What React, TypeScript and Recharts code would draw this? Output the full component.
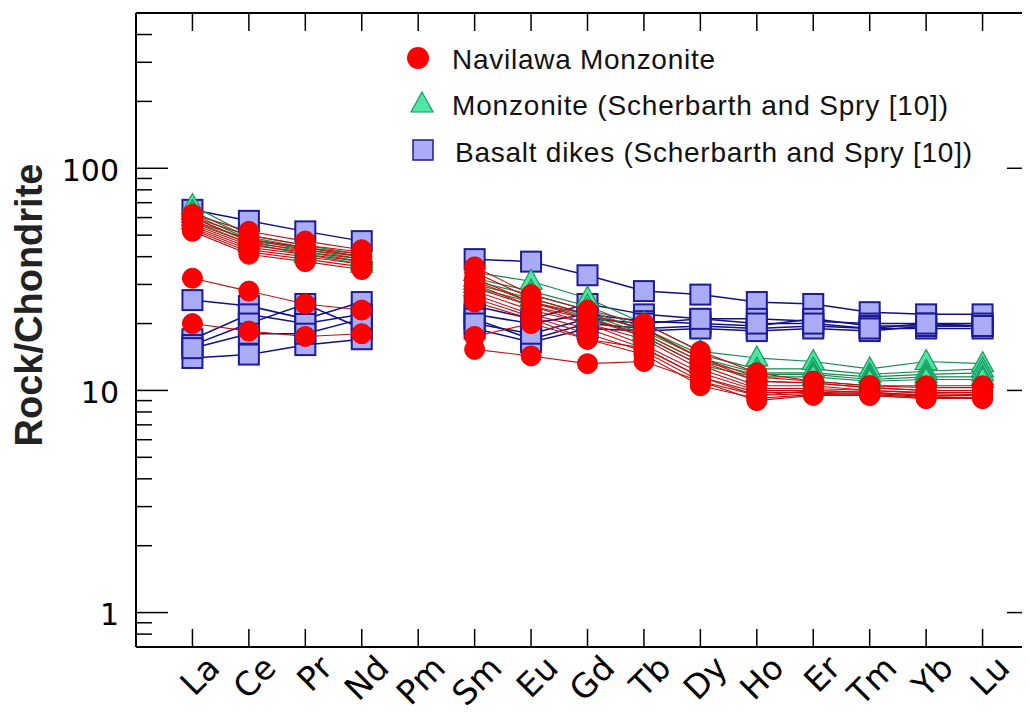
import React from 'react';
import { LineChart, Line, XAxis, YAxis } from 'recharts';

const elements = ['La', 'Ce', 'Pr', 'Nd', 'Pm', 'Sm', 'Eu', 'Gd', 'Tb', 'Dy', 'Ho', 'Er', 'Tm', 'Yb', 'Lu'];
const xTicks = [1, 2, 3, 4, 5, 6, 7, 8, 9, 10, 11, 12, 13, 14, 15];
const yMajor = [1, 10, 100];
const yTicks = [0.8, 0.9, 1, 2, 3, 4, 5, 6, 7, 8, 9, 10, 20, 30, 40, 50, 60, 70, 80, 90, 100, 200, 300, 400];

// Navilawa Monzonite (La..Lu, Pm = null)
const navilawa: (number | null)[][] = [
  [62, 52, 47, 43, null, 36, 27, 23, 20, 15, 12, 11, 10.5, 10.5, 10.5],
  [60, 50, 45, 42, null, 34, 26, 22, 19, 14, 11.5, 11, 10.5, 10.3, 10.3],
  [58, 48, 44, 41, null, 32, 25, 21, 18, 13.5, 11, 10.8, 10.3, 10, 10],
  [57, 46, 43, 40, null, 30, 24, 21, 17.5, 13, 10.5, 10.5, 10, 9.8, 9.8],
  [56, 45, 42, 39, null, 29, 24, 20, 17, 12.5, 10.2, 10.2, 10, 9.7, 9.8],
  [55, 44, 41, 38, null, 28, 23, 20, 16, 12, 10, 10, 9.8, 9.5, 9.6],
  [54, 43, 40, 37, null, 27, 22, 19, 15.5, 11.5, 9.8, 9.8, 9.7, 9.4, 9.5],
  [53, 42, 39, 36, null, 26, 21.5, 18, 15, 11, 9.5, 9.7, 9.6, 9.3, 9.3],
  [52, 41, 38, 35, null, 25, 21, 17, 14.5, 10.5, 9.2, 9.6, 9.5, 9.2, 9.2],
  [60, 47, 44, 40, null, 31, 25, 22, 19, 14, 11, 10.8, 10.3, 10, 10],
  [32, 28, 24.5, 23, null, 17.5, 20, 17, 15.5, 11.5, 9.5, 10, 9.8, 9.5, 9.5],
  [20, 18.5, 17.5, 18, null, 15.3, 14.3, 13.2, 13.5, 11, 9, 9.5, 9.5, 9.2, 9.2],
];

// Monzonite (Scherbarth and Spry [10])
const monzonite: (number | null)[][] = [
  [68, 50, 45, 41, null, 34, 31, 26, 20, 15, 14, 13.5, 12.5, 13.5, 13.2],
  [64, 49, 44, 40, null, 32, 28, 24, 19, 14.5, 12.5, 12.5, 11.8, 12.2, 12.5],
  [62, 48, 43, 39, null, 31, 27, 23, 18.5, 14, 12, 12, 11.5, 11.8, 12],
  [60, 47, 42, 38, null, 30, 26, 22, 18, 13.5, 11.8, 11.8, 11.2, 11.5, 11.5],
  [58, 46, 41, 37, null, 29, 25, 21.5, 17.5, 13, 11.5, 11.5, 11, 11.2, 11.2],
];

// Basalt dikes (Scherbarth and Spry [10])
const basalt: (number | null)[][] = [
  [65, 58, 52, 47, null, 39, 38, 33, 28, 27, 25, 24.5, 22.5, 22, 22],
  [25.5, 24, 21, 25, null, 24, 21, 24.5, 22, 21, 21, 20.5, 20, 20, 20],
  [17, 22, 20, 22, null, 22, 20, 22, 20.5, 20, 19.5, 21, 19.5, 19.5, 19.5],
  [16, 20, 24.5, 19, null, 21, 17, 20, 19, 19.5, 19, 19.5, 19, 19, 19],
  [14, 14.5, 16, 17, null, 19, 16.5, 19, 18.5, 19, 18.5, 19, 18.5, 19.5, 19.5],
  [15.5, 18, 18, 21, null, 20, 18, 21, 20, 21, 20, 20, 19, 20, 19.5],
];

const rows = elements.map((el, i) => {
  const row: any = { x: i + 1, el };
  navilawa.forEach((s, j) => (row['n' + j] = s[i]));
  monzonite.forEach((s, j) => (row['m' + j] = s[i]));
  basalt.forEach((s, j) => (row['b' + j] = s[i]));
  return row;
});

const FONT = 'DejaVu Sans, Verdana, sans-serif';
const SANS = 'Liberation Sans, Arial, sans-serif';

const BottomTick = (p: any) => {
  const { x, y, payload } = p;
  const label = elements[payload.value - 1];
  const px = x + 29;
  const py = y + 23;
  return (
    <g>
      <line x1={x} y1={y} x2={x} y2={y - 18} stroke="#000" strokeWidth={1.5} />
      <text x={px} y={py} textAnchor="end" transform={`rotate(-45 ${px} ${py})`} fontSize={33} fontFamily={FONT} fill="#000">
        {label}
      </text>
    </g>
  );
};

const TopTick = (p: any) => {
  const { x, y } = p;
  return <line x1={x} y1={y} x2={x} y2={y + 18} stroke="#000" strokeWidth={1.5} />;
};

const LeftTick = (p: any) => {
  const { x, y, payload } = p;
  const major = yMajor.includes(payload.value);
  return (
    <g>
      <line x1={x} y1={y} x2={x + (major ? 32 : 16)} y2={y} stroke="#000" strokeWidth={1.5} />
      {major && (
        <text x={x - 17} y={y + 2} textAnchor="end" dominantBaseline="central" fontSize={30} fontFamily={FONT} fill="#000">
          {payload.value}
        </text>
      )}
    </g>
  );
};

const RightTick = (p: any) => {
  const { x, y, payload } = p;
  const major = yMajor.includes(payload.value);
  return <line x1={x} y1={y} x2={x - (major ? 32 : 16)} y2={y} stroke="#000" strokeWidth={1.5} />;
};

const circleDot = (props: any) => {
  const { cx, cy, key } = props;
  if (cx == null || cy == null || isNaN(cy)) return <g key={key} />;
  return <circle key={key} cx={cx} cy={cy} r={10} fill="#ff0000" stroke="#ee0000" strokeWidth={1} />;
};

const triDot = (props: any) => {
  const { cx, cy, key } = props;
  if (cx == null || cy == null || isNaN(cy)) return <g key={key} />;
  const pts = `${cx},${cy - 12} ${cx + 11},${cy + 8} ${cx - 11},${cy + 8}`;
  return <polygon key={key} points={pts} fill="#4fe6a4" stroke="#139a5e" strokeWidth={1.2} />;
};

const squareDot = (props: any) => {
  const { cx, cy, key } = props;
  if (cx == null || cy == null || isNaN(cy)) return <g key={key} />;
  return <rect key={key} x={cx - 10} y={cy - 10} width={20} height={20} fill="#a9abf4" stroke="#1c1c96" strokeWidth={2} />;
};

export default function App() {
  const axisLine = { stroke: '#000', strokeWidth: 2 };
  return (
    <div style={{ position: 'relative', width: 1022, height: 705, overflow: 'hidden', background: '#fff' }}>
      <LineChart width={1040} height={705} data={rows} margin={{ top: 4, right: 8, bottom: 0, left: 0 }}>
        <XAxis xAxisId="b" type="number" dataKey="x" domain={[0, 16]} ticks={xTicks} interval={0} height={66}
          tickLine={false} tickSize={0} tickMargin={0} axisLine={axisLine} tick={<BottomTick />} allowDataOverflow />
        <XAxis xAxisId="t" orientation="top" type="number" dataKey="x" domain={[0, 16]} ticks={xTicks} interval={0} height={1}
          tickLine={false} tickSize={0} tickMargin={0} axisLine={axisLine} tick={<TopTick />} allowDataOverflow />
        <YAxis yAxisId="l" scale="log" domain={[0.7, 500]} ticks={yTicks} interval={0} width={128}
          tickLine={false} tickSize={0} tickMargin={0} axisLine={axisLine} tick={<LeftTick />} allowDataOverflow />
        <YAxis yAxisId="r" orientation="right" scale="log" domain={[0.7, 500]} ticks={yTicks} interval={0} width={1}
          tickLine={false} tickSize={0} tickMargin={0} axisLine={axisLine} tick={<RightTick />} allowDataOverflow />
        {basalt.map((_, j) => (
          <Line key={'b' + j} xAxisId="b" yAxisId="l" dataKey={'b' + j} stroke="#10108c" strokeWidth={1.5}
            dot={squareDot} activeDot={false} isAnimationActive={false} connectNulls={false} />
        ))}
        {monzonite.map((_, j) => (
          <Line key={'m' + j} xAxisId="b" yAxisId="l" dataKey={'m' + j} stroke="#118a4c" strokeWidth={1.2}
            dot={triDot} activeDot={false} isAnimationActive={false} connectNulls={false} />
        ))}
        {navilawa.map((_, j) => (
          <Line key={'n' + j} xAxisId="b" yAxisId="l" dataKey={'n' + j} stroke="#c80c0c" strokeWidth={1.1}
            dot={circleDot} activeDot={false} isAnimationActive={false} connectNulls={false} />
        ))}
      </LineChart>
      <svg width={1022} height={705} style={{ position: 'absolute', left: 0, top: 0, pointerEvents: 'none' }}>
        <text x={21} y={297} textAnchor="middle" dominantBaseline="central" transform="rotate(-90 21 297)"
          fontSize={38} fontWeight="bold" fontFamily={SANS} fill="#222">Rock/Chondrite</text>
        <circle cx={410} cy={50} r={11} fill="#ff0000" />
        <text x={444} y={51} dominantBaseline="central" fontSize={28} fontFamily={SANS} fill="#111"
          textLength={263} lengthAdjust="spacing">Navilawa Monzonite</text>
        <polygon points="414,84 425,104 403,104" fill="#4fe6a4" stroke="#139a5e" strokeWidth={1.2} />
        <text x={444} y={97} dominantBaseline="central" fontSize={28} fontFamily={SANS} fill="#111"
          textLength={496} lengthAdjust="spacing">Monzonite (Scherbarth and Spry [10])</text>
        <rect x={405} y={132} width={20} height={20} fill="#a9abf4" stroke="#1c1c96" strokeWidth={1.5} />
        <text x={447} y={144} dominantBaseline="central" fontSize={28} fontFamily={SANS} fill="#111"
          textLength={517} lengthAdjust="spacing">Basalt dikes (Scherbarth and Spry [10])</text>
      </svg>
    </div>
  );
}
